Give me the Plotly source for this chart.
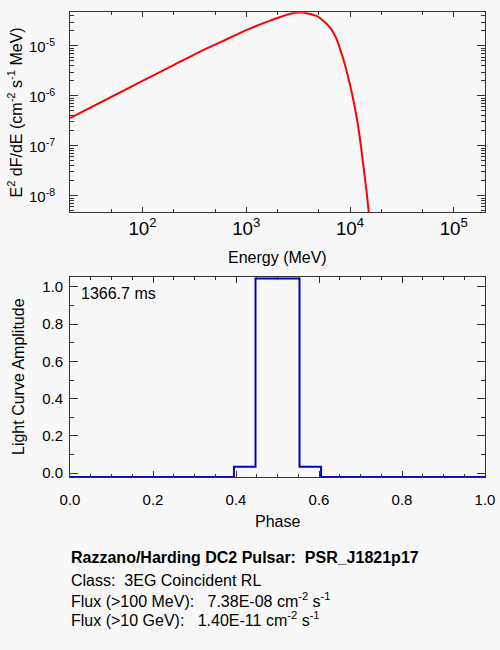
import plotly.graph_objects as go

# spectrum (MeV, E^2 dF/dE)
energy = [20, 100, 184, 385, 697, 1011, 1698, 2851, 3563, 4800, 5164, 6455,
          7484, 8054, 8670, 10060, 11250, 12390, 13360, 14380, 15140, 15500]
e2dfde = [3.6e-7, 2.0e-6, 3.8e-6, 8.26e-6, 1.46e-5, 2.09e-5, 3.21e-5, 4.58e-5,
          4.64e-5, 3.94e-5, 3.59e-5, 2.30e-5, 1.32e-5, 8.43e-6, 5.24e-6, 1.58e-6,
          5.21e-7, 1.52e-7, 4.46e-8, 1.30e-8, 4.79e-9, 3.0e-9]
flux_tick_exponents = [-8, -7, -6, -5]

# light curve steps (left edge of each step, hv shape)
phase = [0.0, 0.395, 0.447, 0.553, 0.605, 1.0]
amplitude = [-0.02, 0.035, 1.045, 0.035, -0.02, -0.02]

period_label = "1366.7 ms"
info_lines = [
    "<b>Razzano/Harding DC2 Pulsar:\u00a0\u00a0PSR_J1821p17</b>",
    "Class:\u00a0\u00a03EG Coincident RL",
    "Flux (>100 MeV):\u00a0\u00a0\u00a07.38E-08 cm<sup>-2</sup> s<sup>-1</sup>",
    "Flux (>10 GeV):\u00a0\u00a0\u00a01.40E-11 cm<sup>-2</sup> s<sup>-1</sup>",
]

FONT = "Liberation Sans, Arial, Helvetica, sans-serif"
AX = "#333333"
BG = "#f8f8f8"
W, H = 500, 650

fig = go.Figure()
fig.add_trace(go.Scatter(x=energy, y=e2dfde, mode="lines", line_shape="spline",
                         line=dict(color="#ff0000", width=2, smoothing=0.8),
                         xaxis="x", yaxis="y"))
fig.add_trace(go.Scatter(x=phase, y=amplitude, mode="lines", line_shape="hv",
                         line=dict(color="#0000c8", width=2), xaxis="x2", yaxis="y2"))

common = dict(showline=True, linecolor=AX, linewidth=1, mirror="allticks",
              ticks="inside", tickcolor=AX, showgrid=False, zeroline=False,
              automargin=False,
              tickfont=dict(size=15, color="black", family=FONT))

fig.update_layout(
    width=W, height=H,
    margin=dict(l=0, r=0, t=0, b=0),
    paper_bgcolor=BG, plot_bgcolor=BG,
    showlegend=False,
    font=dict(family=FONT, size=16, color="black"),
    xaxis=dict(common, type="log", domain=[0.14, 0.97], anchor="y",
               range=[1.301, 5.301], dtick=1, exponentformat="power",
               ticklen=5, minor=dict(ticks="inside", dtick="D2", ticklen=3, tickcolor=AX)),
    yaxis=dict(common, type="log", domain=[0.6738, 0.9811], anchor="x",
               range=[-8.326, -4.326], dtick=1, showticklabels=False,
               ticklen=8, minor=dict(ticks="inside", dtick="D1", ticklen=4, tickcolor=AX)),
    xaxis2=dict(common, domain=[0.14, 0.97], anchor="y2",
                range=[0, 1], dtick=0.2, tick0=0, tickformat=".1f",
                ticklen=6, ticklabelstandoff=9,
                minor=dict(ticks="inside", dtick=0.05, ticklen=3, tickcolor=AX)),
    yaxis2=dict(common, domain=[0.2662, 0.5743], anchor="x2",
                range=[-0.02, 1.055], dtick=0.2, tick0=0, tickformat=".1f",
                ticklen=8, ticklabelstandoff=3,
                minor=dict(ticks="inside", dtick=0.1, ticklen=4, tickcolor=AX)),
)

# log y tick labels, set a little away from the axis like the reference
for p in flux_tick_exponents:
    fig.add_annotation(text="10<sup>%d</sup>" % p, xref="paper", yref="y", x=57 / W, y=p,
                       xanchor="right", yanchor="middle", showarrow=False,
                       font=dict(size=15, family=FONT, color="black"))

# axis titles placed as in the reference (pixel positions -> paper coords)
titles = [
    ("Energy (MeV)", 277.5, 257, 0),
    ("Phase", 277.5, 521, 0),
    ("E<sup>2</sup> dF/dE (cm<sup>-2</sup> s<sup>-1</sup> MeV)", 15, 112.5, -90),
    ("Light Curve Amplitude", 18, 377, -90),
]
for txt, xp, yp, ang in titles:
    fig.add_annotation(text=txt, xref="paper", yref="paper", x=xp / W, y=1 - yp / H,
                       xanchor="center", yanchor="middle", showarrow=False, textangle=ang,
                       font=dict(size=16, family=FONT, color="black"))

fig.add_annotation(text=period_label, xref="paper", yref="paper", x=0.158, y=0.549,
                   xanchor="left", yanchor="middle", showarrow=False,
                   font=dict(size=16, family=FONT, color="black"))

for txt, ypix in zip(info_lines, [557.7, 580, 600, 619]):
    fig.add_annotation(text=txt, xref="paper", yref="paper", x=0.1374, y=1 - ypix / H,
                       xanchor="left", yanchor="middle", showarrow=False,
                       font=dict(size=16, family=FONT, color="black"))

page_fix = ("document.documentElement.style.margin='0';"
            "document.documentElement.style.overflow='hidden';"
            "document.body.style.margin='0';document.body.style.padding='0';"
            "document.body.style.overflow='hidden';")
fig.write_html("out.html", config={"displayModeBar": False}, post_script=page_fix)
